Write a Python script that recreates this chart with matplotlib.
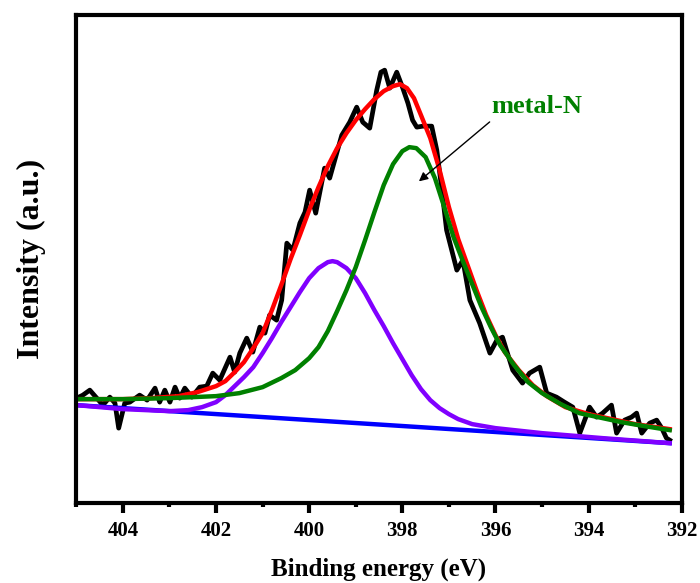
import matplotlib
matplotlib.use('Agg')
import matplotlib.pyplot as plt
from matplotlib.ticker import MultipleLocator

plt.rcParams['font.family'] = ['Liberation Serif', 'DejaVu Serif']
plt.rcParams['font.weight'] = 'bold'

# raw N 1s spectrum (binding energy in eV, intensity a.u.)
raw_be = [404.99, 404.86, 404.71, 404.56, 404.43, 404.28, 404.17, 404.09, 403.96, 403.85,
          403.64, 403.48, 403.31, 403.21, 403.10, 402.99, 402.88, 402.78, 402.67, 402.52,
          402.35, 402.20, 402.07, 401.92, 401.70, 401.60, 401.49, 401.34, 401.21, 401.06,
          400.95, 400.85, 400.70, 400.59, 400.48, 400.35, 400.20, 400.09, 399.99, 399.86,
          399.67, 399.56, 399.30, 399.13, 398.98, 398.85, 398.70, 398.55, 398.46, 398.38,
          398.27, 398.12, 397.99, 397.88, 397.78, 397.69, 397.56, 397.37, 397.26, 397.15,
          397.05, 396.83, 396.70, 396.55, 396.34, 396.12, 395.97, 395.85, 395.63, 395.42,
          395.27, 395.05, 394.90, 394.69, 394.52, 394.34, 394.19, 393.98, 393.83, 393.70,
          393.51, 393.40, 393.23, 393.08, 392.97, 392.86, 392.69, 392.54, 392.43, 392.33,
          392.26]
raw_int = [105, 108, 113, 105, 98, 106, 100, 75, 100, 101,
           108, 103, 115, 101, 113, 101, 116, 105, 115, 106,
           116, 117, 130, 123, 146, 131, 150, 165, 151, 176,
           170, 188, 183, 203, 260, 253, 280, 291, 313, 290,
           335, 325, 368, 381, 396, 381, 375, 413, 431, 433,
           415, 431, 415, 400, 383, 376, 377, 377, 353, 313,
           273, 233, 243, 203, 180, 150, 163, 166, 133, 120,
           130, 136, 110, 106, 101, 96, 70, 96, 86, 90,
           98, 70, 83, 86, 90, 70, 80, 83, 75, 65,
           63]

# fitted envelope
env_be = [405.0, 404.0, 403.4, 402.8, 402.4, 402.0, 401.8, 401.6, 401.4, 401.2,
          401.0, 400.8, 400.6, 400.4, 400.2, 400.0, 399.8, 399.6, 399.4, 399.2,
          399.0, 398.8, 398.6, 398.4, 398.2, 398.05, 397.9, 397.75, 397.6, 397.4,
          397.2, 397.0, 396.8, 396.6, 396.4, 396.2, 396.0, 395.8, 395.5, 395.2,
          394.9, 394.5, 394.0, 393.5, 393.0, 392.26]
env_int = [104, 104, 105, 107, 111, 117, 122, 131, 141, 155,
           170, 193, 218, 244, 268, 293, 316, 337, 355, 370,
           383, 394, 404, 412, 417, 419, 415, 405, 388, 365,
           333, 296, 264, 238, 212, 188, 168, 151, 133, 118,
           107, 96, 89, 84, 79, 74]

# metal-N component
mn_be = [405.0, 404.0, 403.0, 402.0, 401.5, 401.0, 400.6, 400.3, 400.0, 399.8,
         399.6, 399.4, 399.2, 399.0, 398.8, 398.6, 398.4, 398.2, 398.0, 397.85,
         397.7, 397.5, 397.3, 397.1, 396.9, 396.7, 396.5, 396.3, 396.1, 395.9,
         395.6, 395.3, 395.0, 394.6, 394.2, 393.7, 393.3, 392.8, 392.26]
mn_int = [104, 104, 105, 107, 110, 116, 125, 133, 145, 156,
          172, 192, 213, 236, 263, 291, 318, 339, 352, 356,
          355, 346, 325, 296, 266, 242, 219, 196, 176, 158,
          138, 121, 110, 99, 90, 85, 81, 77, 73]

# second N component (~399.5 eV)
n2_be = [405.0, 404.0, 403.0, 402.6, 402.3, 402.0, 401.8, 401.6, 401.4, 401.2,
         401.0, 400.8, 400.6, 400.4, 400.2, 400.0, 399.8, 399.6, 399.5, 399.4,
         399.2, 399.0, 398.8, 398.6, 398.4, 398.2, 398.0, 397.8, 397.6, 397.4,
         397.2, 397.0, 396.8, 396.5, 396.0, 395.0, 393.7, 392.26]
n2_int = [98, 94, 92, 93, 96, 101, 108, 117, 126, 136,
          150, 165, 181, 196, 211, 225, 235, 241, 242, 241,
          235, 225, 210, 193, 177, 160, 144, 128, 114, 103,
          95, 89, 84, 79, 75, 70, 65, 60]

# linear background
bg_be = [405.00, 392.26]
bg_int = [98, 60]

fig = plt.figure(figsize=(7, 5.83), dpi=100)
ax = fig.add_axes([0.109, 0.137, 0.865, 0.837])

ax.plot(raw_be, raw_int, color='black', lw=3.4, solid_joinstyle='round')
ax.plot(env_be, env_int, color='#ff0000', lw=3.2, solid_joinstyle='round')
ax.plot(bg_be, bg_int, color='#0000ff', lw=3.2)
ax.plot(n2_be, n2_int, color='#8000ff', lw=3.2, solid_joinstyle='round')
ax.plot(mn_be, mn_int, color='#008000', lw=3.2, solid_joinstyle='round')

ax.annotate('', xy=(397.69, 320), xytext=(396.08, 383),
            arrowprops=dict(arrowstyle='-|>', color='black', lw=1.0, mutation_scale=13))
ax.text(396.08, 397, 'metal-N', color='#008000', fontsize=19, fontweight='bold',
        ha='left', va='center')

ax.set_xlim(405, 392)
ax.set_ylim(0, 488)
ax.xaxis.set_major_locator(MultipleLocator(2))
ax.xaxis.set_minor_locator(MultipleLocator(1))
ax.tick_params(axis='x', which='major', direction='out', length=7, width=3,
               labelsize=15, pad=6)
ax.tick_params(axis='x', which='minor', direction='out', length=3, width=3)
ax.tick_params(axis='y', left=False, labelleft=False)
for s in ax.spines.values():
    s.set_linewidth(3)

ax.set_xlabel('Binding energy (eV)', fontsize=18, fontweight='bold', labelpad=12)
ax.set_ylabel('Intensity (a.u.)', fontsize=23, fontweight='bold', labelpad=22)

fig.savefig('out.png', dpi=100)
